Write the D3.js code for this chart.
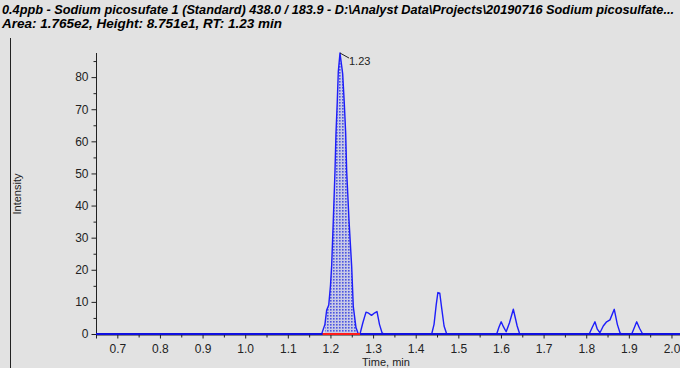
<!DOCTYPE html>
<html>
<head>
<meta charset="utf-8">
<script src="https://cdn.jsdelivr.net/npm/d3@7"></script>
<style>
  html, body { margin: 0; padding: 0; background: #e2e2e2; }
  svg { display: block; }
</style>
</head>
<body>
<div id="chart"></div>
<script>
// chromatogram trace (time in min, intensity)
const traceTime = [
  0.65, 1.1794, 1.1870, 1.1912, 1.1960, 1.2000, 1.2029, 1.2067, 1.2106, 1.2130, 1.2160, 1.2184, 1.2224,
  1.2287, 1.2324, 1.2357, 1.2381, 1.2435, 1.2498, 1.2536, 1.2599, 1.2653,
  1.2693, 1.2760, 1.2834, 1.2880, 1.2963, 1.3040, 1.3092, 1.3150, 1.3210, 1.3256,
  1.4375, 1.4430, 1.4480, 1.4520, 1.4565, 1.4610, 1.4665, 1.4727,
  1.5900, 1.5950, 1.6005, 1.6060, 1.6122, 1.6200, 1.6290, 1.6380, 1.6440,
  1.8071, 1.8140, 1.8205, 1.8260, 1.8322, 1.8400, 1.8479, 1.8557, 1.8658, 1.8730, 1.8792, 1.8832,
  1.9067, 1.9130, 1.9184, 1.9250, 1.9324, 2.02
];
const traceIntensity = [
  0, 0, 3, 7.5, 9.0, 15, 21.5, 35.5, 50.6, 62.6, 72.4, 81.7, 87.5,
  81, 72, 62.6, 50.6, 35.5, 21, 8.5, 2, 0,
  0, 3.5, 6.8, 6.6, 5.8, 6.6, 7.0, 3.0, 0.4, 0,
  0, 3, 9, 12.9, 12.7, 8, 2.5, 0,
  0, 2, 3.8, 2.2, 0.7, 3.5, 7.7, 2.5, 0,
  0, 2, 3.8, 1.5, 0.4, 2.5, 3.8, 4.4, 7.7, 3, 0.4, 0,
  0, 2, 3.8, 1.8, 0, 0
];

// integrated peak
const peakStart = 1.1816;
const peakEnd = 1.2694;
const peakRT = 1.2224;
const peakHeight = 87.5;
const peakLabel = "1.23";

const xTicks = [0.7, 0.8, 0.9, 1.0, 1.1, 1.2, 1.3, 1.4, 1.5, 1.6, 1.7, 1.8, 1.9, 2.0];
const xMinorTicks = [0.75, 0.85, 0.95, 1.05, 1.15, 1.25, 1.35, 1.45, 1.55, 1.65, 1.75, 1.85, 1.95];
const yTicks = [0, 10, 20, 30, 40, 50, 60, 70, 80];
const yMinorTicks = [5, 15, 25, 35, 45, 55, 65, 75, 85];

const titleLines = [
  "0.4ppb - Sodium picosufate 1 (Standard) 438.0 / 183.9 - D:\\Analyst Data\\Projects\\20190716 Sodium picosulfate...",
  "Area: 1.765e2, Height: 8.751e1, RT: 1.23 min"
];

const W = 680, H = 368;
const plot = {left: 96, right: 680, top: 53, bottom: 334};

const svg = d3.select("#chart").append("svg")
    .attr("width", W)
    .attr("height", H);

svg.append("rect").attr("width", W).attr("height", H).attr("fill", "#e2e2e2");

// dotted fill for the integrated peak
const defs = svg.append("defs");
const pat = defs.append("pattern")
    .attr("id", "dots")
    .attr("patternUnits", "userSpaceOnUse")
    .attr("width", 3)
    .attr("height", 3);
pat.append("rect").attr("width", 3).attr("height", 3).attr("fill", "#c8cae6");
pat.append("rect").attr("width", 1.6).attr("height", 1.6).attr("fill", "#4b55e0");

defs.append("clipPath").attr("id", "plotclip")
  .append("rect")
    .attr("x", plot.left)
    .attr("y", 0)
    .attr("width", plot.right - plot.left)
    .attr("height", plot.bottom + 4);

const x = d3.scaleLinear().domain([0.65, 2.02]).range([plot.left, plot.right]);
const y = d3.scaleLinear().domain([0, 87.51]).range([plot.bottom, plot.top]);

const trace = traceTime.map((t, i) => ({t: t, v: traceIntensity[i]}));

// left panel border
svg.append("line")
    .attr("x1", 10.5).attr("x2", 10.5)
    .attr("y1", 38).attr("y2", H)
    .attr("stroke", "#222").attr("stroke-width", 1);

// title
svg.selectAll(".title")
  .data(titleLines)
  .enter()
  .append("text")
    .attr("class", "title")
    .attr("x", 2)
    .attr("y", (d, i) => 14 + i * 14)
    .attr("textLength", (d, i) => i === 0 ? 672 : 280)
    .attr("lengthAdjust", "spacingAndGlyphs")
    .style("font-family", "'Liberation Sans Narrow', 'Liberation Sans', Arial, sans-serif")
    .style("font-style", "italic")
    .style("font-weight", "bold")
    .style("font-size", "12.5px")
    .style("fill", "#000")
    .text(d => d);

// axes
const gx = svg.append("g")
    .attr("transform", `translate(0,${plot.bottom + 0.5})`)
    .call(d3.axisBottom(x).tickValues(xTicks).tickSize(4).tickFormat(d3.format(".1f")));
svg.append("g")
    .attr("transform", `translate(0,${plot.bottom + 0.5})`)
    .call(d3.axisBottom(x).tickValues(xMinorTicks).tickSize(3).tickFormat(""))
    .select(".domain").remove();

const gy = svg.append("g")
    .attr("transform", `translate(${plot.left + 0.5},0)`)
    .call(d3.axisLeft(y).tickValues(yTicks).tickSize(5));
svg.append("g")
    .attr("transform", `translate(${plot.left + 0.5},0)`)
    .call(d3.axisLeft(y).tickValues(yMinorTicks).tickSize(3).tickFormat(""))
    .select(".domain").remove();

gy.select(".domain").attr("d", `M0,${plot.top}V${plot.bottom}`);

svg.selectAll(".domain, .tick line").attr("stroke", "#222");
[gx, gy].forEach(g => g.selectAll("text")
    .style("font-family", "'Liberation Sans', Arial, sans-serif")
    .style("font-size", "12px")
    .style("fill", "#222"));
gx.selectAll("text").attr("dy", "0.95em");
gy.selectAll("text").attr("x", -8);

// axis titles
svg.append("text")
    .attr("x", 386)
    .attr("y", 366)
    .attr("text-anchor", "middle")
    .style("font-family", "'Liberation Sans', Arial, sans-serif")
    .style("font-size", "11px")
    .style("fill", "#222")
    .text("Time, min");

svg.append("text")
    .attr("transform", "translate(21,194) rotate(-90)")
    .attr("text-anchor", "middle")
    .style("font-family", "'Liberation Sans', Arial, sans-serif")
    .style("font-size", "11px")
    .style("fill", "#222")
    .text("Intensity");

const plotG = svg.append("g").attr("clip-path", "url(#plotclip)");

// integrated area
const peakPts = trace.filter(d => d.t >= peakStart && d.t <= peakEnd);
plotG.append("path")
    .datum(peakPts)
    .attr("fill", "url(#dots)")
    .attr("d", d3.area().x(d => x(d.t)).y0(y(0)).y1(d => y(d.v)));

// trace
plotG.append("path")
    .datum(trace)
    .attr("fill", "none")
    .attr("stroke", "#1e1efa")
    .attr("stroke-width", 1.4)
    .attr("stroke-linejoin", "round")
    .attr("d", d3.line().x(d => x(d.t)).y(d => y(d.v)));

// baseline emphasis
plotG.append("line")
    .attr("x1", x(0.65)).attr("x2", x(2.02))
    .attr("y1", y(0)).attr("y2", y(0))
    .attr("stroke", "#1010e0")
    .attr("stroke-width", 2);

// integration baseline
plotG.append("line")
    .attr("x1", x(peakStart)).attr("x2", x(peakEnd))
    .attr("y1", y(0)).attr("y2", y(0))
    .attr("stroke", "#ff1a1a")
    .attr("stroke-width", 2);

// RT label with leader
svg.append("line")
    .attr("x1", x(peakRT)).attr("y1", y(peakHeight))
    .attr("x2", x(peakRT) + 9).attr("y2", y(peakHeight) + 5)
    .attr("stroke", "#222").attr("stroke-width", 1);
svg.append("text")
    .attr("x", x(peakRT) + 9)
    .attr("y", y(peakHeight) + 12)
    .style("font-family", "'Liberation Sans', Arial, sans-serif")
    .style("font-size", "11px")
    .style("fill", "#222")
    .text(peakLabel);
</script>
</body>
</html>
